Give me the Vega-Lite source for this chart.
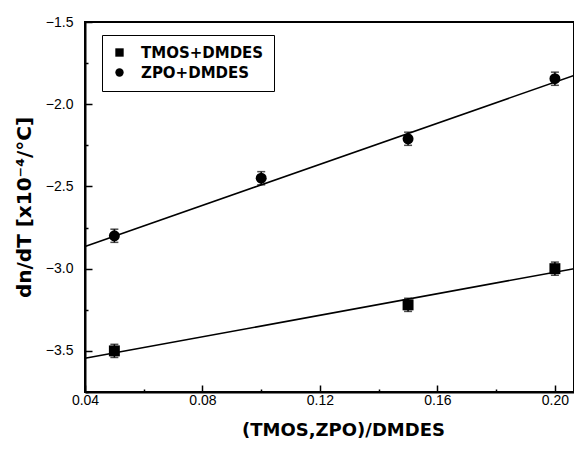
{
  "$schema": "https://vega.github.io/schema/vega-lite/v6.json",
  "autosize": {"type": "none"},
  "width": 489,
  "height": 370,
  "padding": {"left": 85, "top": 22, "right": 0, "bottom": 59},
  "background": "white",
  "config": {
    "font": "Liberation Sans",
    "view": {"stroke": "black", "strokeWidth": 2},
    "axis": {
      "domainColor": "black", "domainWidth": 2, "tickColor": "black", "tickWidth": 1.5,
      "labelColor": "black", "labelFont": "Liberation Sans", "labelFontSize": 14,
      "titleColor": "black", "titleFont": "DejaVu Sans", "titleFontWeight": "bold",
      "grid": false, "labelFlush": false, "labelOverlap": false
    }
  },
  "datasets": {
    "pts": [
      {"x": 0.05, "y": -3.5, "lo": -3.54, "hi": -3.46, "series": "TMOS+DMDES"},
      {"x": 0.15, "y": -3.22, "lo": -3.26, "hi": -3.18, "series": "TMOS+DMDES"},
      {"x": 0.20, "y": -3.0, "lo": -3.04, "hi": -2.96, "series": "TMOS+DMDES"},
      {"x": 0.05, "y": -2.8, "lo": -2.84, "hi": -2.76, "series": "ZPO+DMDES"},
      {"x": 0.10, "y": -2.45, "lo": -2.49, "hi": -2.41, "series": "ZPO+DMDES"},
      {"x": 0.15, "y": -2.21, "lo": -2.25, "hi": -2.17, "series": "ZPO+DMDES"},
      {"x": 0.20, "y": -1.845, "lo": -1.885, "hi": -1.805, "series": "ZPO+DMDES"}
    ],
    "fit": [
      {"x": 0.04, "y": -3.545, "series": "TMOS+DMDES"},
      {"x": 0.2065, "y": -3.0, "series": "TMOS+DMDES"},
      {"x": 0.04, "y": -2.865, "series": "ZPO+DMDES"},
      {"x": 0.2065, "y": -1.825, "series": "ZPO+DMDES"}
    ]
  },
  "encoding": {
    "x": {
      "field": "x", "type": "quantitative",
      "scale": {"domain": [0.04, 0.2065], "nice": false, "zero": false},
      "axis": {
        "title": "(TMOS,ZPO)/DMDES", "titleFontSize": 18, "titlePadding": 14, "titleX": 258,
        "values": [0.04, 0.06, 0.08, 0.10, 0.12, 0.14, 0.16, 0.18, 0.20],
        "labelExpr": "abs(datum.value/0.04 - round(datum.value/0.04)) < 1e-6 ? format(datum.value, '.2f') : ''",
        "tickSize": -7,
        "tickDash": {"condition": {"test": "abs(datum.value/0.04 - round(datum.value/0.04)) > 1e-6", "value": [3, 20]}, "value": [20, 0]},
        "labelPadding": 8
      }
    },
    "y": {
      "field": "y", "type": "quantitative",
      "scale": {"domain": [-3.75, -1.5], "nice": false, "zero": false},
      "axis": {
        "title": "dn/dT [x10⁻⁴/°C]", "titleFontSize": 20, "titlePadding": 11,
        "values": [-3.75, -3.5, -3.25, -3.0, -2.75, -2.5, -2.25, -2.0, -1.75, -1.5],
        "labelExpr": "abs(datum.value/0.5 - round(datum.value/0.5)) < 1e-6 ? format(datum.value, '.1f') : ''",
        "tickSize": -7,
        "tickDash": {"condition": {"test": "abs(datum.value/0.5 - round(datum.value/0.5)) > 1e-6", "value": [3, 20]}, "value": [20, 0]},
        "labelPadding": 19
      }
    }
  },
  "layer": [
    {
      "data": {"name": "fit"},
      "mark": {"type": "line", "color": "black", "strokeWidth": 1.6},
      "encoding": {"detail": {"field": "series"}}
    },
    {
      "data": {"name": "pts"},
      "mark": {"type": "errorbar", "color": "black", "ticks": {"size": 8, "thickness": 1.5}, "rule": {"strokeWidth": 1.5}},
      "encoding": {"y": {"field": "lo", "type": "quantitative"}, "y2": {"field": "hi"}}
    },
    {
      "data": {"name": "pts"},
      "mark": {"type": "point", "filled": true, "opacity": 1, "color": "black", "size": 120},
      "encoding": {
        "shape": {
          "field": "series", "type": "nominal",
          "scale": {"domain": ["TMOS+DMDES", "ZPO+DMDES"], "range": ["square", "circle"]},
          "legend": {
            "title": null, "orient": "none", "legendX": 17, "legendY": 13,
            "strokeColor": "black", "padding": 10,
            "labelFontSize": 15, "labelFont": "DejaVu Sans", "labelFontWeight": "bold", "labelColor": "black",
            "symbolFillColor": "black", "symbolStrokeColor": "black", "symbolSize": 70,
            "rowPadding": 4, "labelOffset": 14, "labelLimit": 200
          }
        }
      }
    }
  ]
}
